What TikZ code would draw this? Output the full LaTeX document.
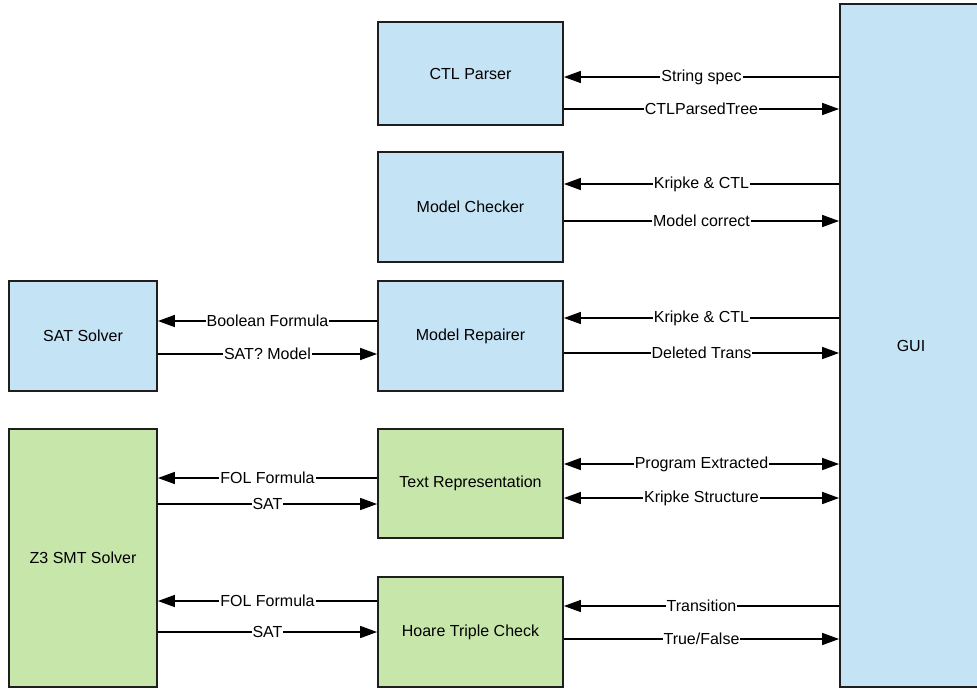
\documentclass[tikz,border=0pt]{standalone}
\usepackage{fontspec}
\setmainfont{Liberation Sans}
\usetikzlibrary{arrows.meta}

\definecolor{boxblue}{RGB}{196,227,245}
\definecolor{boxgreen}{RGB}{199,230,170}
\definecolor{edge}{RGB}{30,30,30}

\begin{document}
\begin{tikzpicture}[x=1pt,y=-1pt,
  font=\fontsize{16}{19}\selectfont,
  box/.style={draw=edge, line width=1.8pt, rectangle, inner sep=0pt, align=center},
  bluebox/.style={box, fill=boxblue},
  greenbox/.style={box, fill=boxgreen},
  tip/.style={Triangle[length=17pt,width=12pt]},
  arr/.style={line width=1.5pt, draw=black, -{Triangle[length=17pt,width=12pt]}},
  darr/.style={line width=1.5pt, draw=black, {Triangle[length=17pt,width=12pt]}-{Triangle[length=17pt,width=12pt]}},
  lbl/.style={fill=white, inner sep=1pt, midway}]

\useasboundingbox (0,0) rectangle (977,689);

% components in the middle column
\node[bluebox, minimum width=185, minimum height=103] (ctl) at (470.5,73.5) {CTL Parser};
\node[bluebox, minimum width=185, minimum height=110] (mc)  at (470.5,207) {Model Checker};
\node[bluebox, minimum width=185, minimum height=110] (mr)  at (470.5,336) {Model Repairer};
\node[greenbox, minimum width=185, minimum height=109] (tr) at (470.5,483.5) {Text Representation};
\node[greenbox, minimum width=185, minimum height=110] (htc) at (470.5,632) {Hoare Triple Check};

% solvers on the left
\node[bluebox, minimum width=148, minimum height=110] (sat) at (83,336) {SAT Solver};
\node[greenbox, minimum width=148, minimum height=258] (z3) at (83,558) {Z3 SMT Solver};

% user interface on the right
\node[bluebox, minimum width=142, minimum height=683] (gui) at (911,345.5) {GUI};

% GUI <-> CTL Parser
\draw[arr] (gui.west |- 0,77) -- (ctl.east |- 0,77) node[lbl] {String spec};
\draw[arr] (ctl.east |- 0,109) -- (gui.west |- 0,109) node[lbl] {CTLParsedTree};

% GUI <-> Model Checker
\draw[arr] (gui.west |- 0,184) -- (mc.east |- 0,184) node[lbl] {Kripke \& CTL};
\draw[arr] (mc.east |- 0,221) -- (gui.west |- 0,221) node[lbl] {Model correct};

% GUI <-> Model Repairer
\draw[arr] (gui.west |- 0,318) -- (mr.east |- 0,318) node[lbl] {Kripke \& CTL};
\draw[arr] (mr.east |- 0,353) -- (gui.west |- 0,353) node[lbl] {Deleted Trans};

% Model Repairer <-> SAT Solver
\draw[arr] (mr.west |- 0,321) -- (sat.east |- 0,321) node[lbl] {Boolean Formula};
\draw[arr] (sat.east |- 0,354) -- (mr.west |- 0,354) node[lbl] {SAT? Model};

% GUI <-> Text Representation
\draw[darr] (tr.east |- 0,464) -- (gui.west |- 0,464) node[lbl] {Program Extracted};
\draw[darr] (tr.east |- 0,498) -- (gui.west |- 0,498) node[lbl] {Kripke Structure};

% Text Representation <-> Z3
\draw[arr] (tr.west |- 0,478) -- (z3.east |- 0,478) node[lbl] {FOL Formula};
\draw[arr] (z3.east |- 0,504) -- (tr.west |- 0,504) node[lbl] {SAT};

% Hoare Triple Check <-> Z3
\draw[arr] (htc.west |- 0,601) -- (z3.east |- 0,601) node[lbl] {FOL Formula};
\draw[arr] (z3.east |- 0,632) -- (htc.west |- 0,632) node[lbl] {SAT};

% GUI <-> Hoare Triple Check
\draw[arr] (gui.west |- 0,606) -- (htc.east |- 0,606) node[lbl] {Transition};
\draw[arr] (htc.east |- 0,639) -- (gui.west |- 0,639) node[lbl] {True/False};

\end{tikzpicture}
\end{document}
